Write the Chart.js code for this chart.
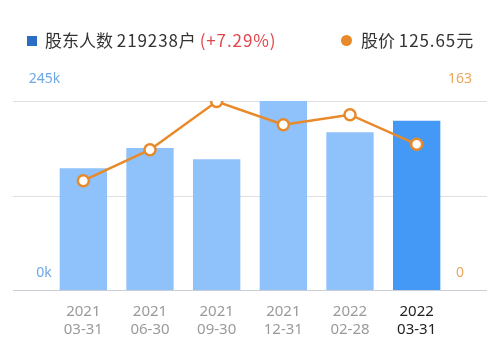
<!DOCTYPE html>
<html><head><meta charset="utf-8">
<script src="https://cdn.jsdelivr.net/npm/chart.js@4"></script>
<style>
html,body{margin:0;padding:0;background:#fff;}
#wrap{position:relative;width:500px;height:351px;font-family:"Noto Sans CJK SC","Noto Sans",sans-serif;}
#legend{position:absolute;top:27px;left:0;width:500px;height:26px;font-size:17px;color:#333;}
#l1{position:absolute;left:27px;top:0;white-space:nowrap;}
#l2{position:absolute;left:341px;top:0;white-space:nowrap;}
.num{letter-spacing:0.9px;}
.sq{display:inline-block;width:10px;height:10px;background:#2b6cc4;margin-right:8px;vertical-align:1px;}
.dot{display:inline-block;width:11px;height:11px;border-radius:50%;background:#e8892a;margin-right:9px;vertical-align:1px;}
.red{color:#e0474c;}
canvas{position:absolute;left:0;top:0;}
</style></head>
<body><div id="wrap"><canvas id="c" width="500" height="351"></canvas>
<div id="legend"><div id="l1"><span class="sq"></span>股东人数 <span class="num">219238</span>户 <span class="red num">(+7.29%)</span></div>
<div id="l2"><span class="dot"></span>股价 <span class="num">125.65</span>元</div></div></div>
<script>
const categories = [["2021","03-31"],["2021","06-30"],["2021","09-30"],["2021","12-31"],["2022","02-28"],["2022","03-31"]];
const holders = [157800, 184000, 169400, 245000, 204340, 219238];
const prices = [94.3, 121.0, 162.5, 142.6, 151.2, 125.65];
const leftTicks = ["0k", "245k"];
const rightTicks = ["0", "163"];
const leftMax = 245000;
const rightMax = 163;

const barColors = holders.map((v,i)=> i===holders.length-1 ? '#4499f7' : '#8fc1fb');
const tickColors = categories.map((v,i)=> i===categories.length-1 ? '#222222' : '#9a9a9a');

const gridPlugin = {
  id:'gridPlugin',
  beforeDatasetsDraw(chart){
    const ctx = chart.ctx;
    const y = chart.scales.y;
    const y1 = chart.scales.y1;
    ctx.save();
    const vals = [0, leftMax/2, leftMax];
    vals.forEach((v,i)=>{
      const py = Math.round(y.getPixelForValue(v))+0.5;
      ctx.strokeStyle = i===0 ? '#c9ced6' : '#dcdfe4';
      ctx.lineWidth = 1.2;
      ctx.beginPath(); ctx.moveTo(13,py); ctx.lineTo(487,py); ctx.stroke();
    });
    ctx.font = '14px "Noto Sans","DejaVu Sans",sans-serif';
    ctx.textAlign = 'center'; ctx.textBaseline = 'middle';
    ctx.fillStyle = '#6ea8e6';
    ctx.fillText(leftTicks[1], 44.5, y.getPixelForValue(leftMax)-22);
    ctx.fillText(leftTicks[0], 44, y.getPixelForValue(0)-17);
    ctx.fillStyle = '#eba65c';
    ctx.fillText(rightTicks[1], 460, y1.getPixelForValue(rightMax)-22);
    ctx.fillText(rightTicks[0], 460, y1.getPixelForValue(0)-17);
    ctx.restore();
  }
};

new Chart(document.getElementById('c'), {
  data:{
    labels: categories,
    datasets:[
      {type:'line', data:prices, yAxisID:'y1', borderColor:'#e8892a', borderWidth:2.5,
       pointBackgroundColor:'#fff', pointBorderColor:'#e8892a', pointBorderWidth:2.5, pointRadius:5.5,
       tension:0, order:0},
      {type:'bar', data:holders, yAxisID:'y', backgroundColor:barColors, barPercentage:0.71, categoryPercentage:1, order:1}
    ]
  },
  options:{
    responsive:false, animation:false, devicePixelRatio:1,
    layout:{padding:{left:50,right:50,top:101,bottom:0}},
    plugins:{legend:{display:false}, tooltip:{enabled:false}},
    scales:{
      x:{grid:{display:false}, border:{display:false},
         afterFit:(s)=>{ s.height = 61; },
         ticks:{color:tickColors, font:{size:15, family:'"Noto Sans","DejaVu Sans",sans-serif', lineHeight:1.25}, padding:4, maxRotation:0}},
      y:{display:false, min:0, max:leftMax},
      y1:{display:false, min:0, max:rightMax, position:'right'}
    }
  },
  plugins:[gridPlugin]
});
</script></body></html>
